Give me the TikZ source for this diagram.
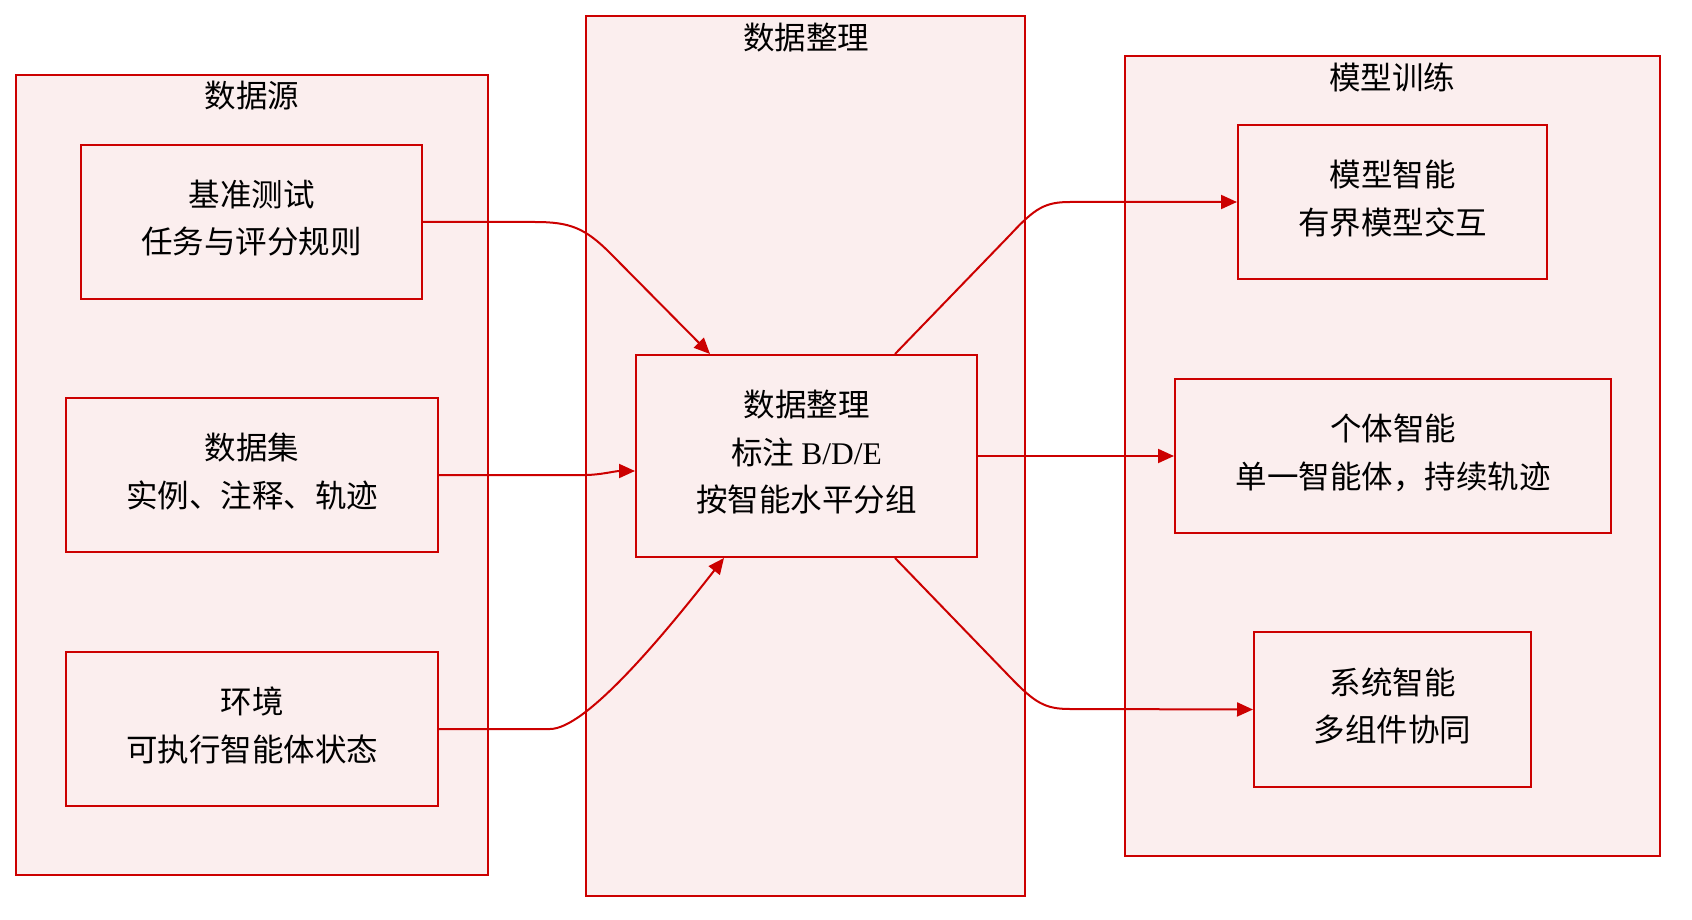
\documentclass[tikz,border=0pt]{standalone}
\usepackage{fontspec}
\setmainfont{Liberation Serif}
\newfontfamily\cjk{Noto Sans CJK SC}
\usetikzlibrary{arrows.meta,calc}
\definecolor{gvred}{HTML}{CC0000}
\definecolor{gvpink}{HTML}{FBEEEE}
\newcommand\lowstrut{\rule[-10pt]{0pt}{10pt}}
\begin{document}
\begin{tikzpicture}[x=1pt,y=-1pt,
  cluster/.style={draw=gvred,fill=gvpink,line width=2pt,inner sep=0pt},
  box/.style={draw=gvred,fill=gvpink,line width=2pt,align=center,inner sep=0pt,
    font=\cjk\fontsize{31.5}{47.5}\selectfont},
  ttl/.style={font=\cjk\fontsize{31.5}{38}\selectfont,inner sep=0pt},
  conn/.style={draw=gvred,line width=2pt,-{Triangle[length=16pt,width=14pt]}}]
\useasboundingbox (0,0) rectangle (1692,920);
% clusters
\node[cluster,minimum width=472pt,minimum height=800pt] (c1) at (252,475) {};
\node[cluster,minimum width=439pt,minimum height=880pt] (c2) at (805.5,456) {};
\node[cluster,minimum width=535pt,minimum height=800pt] (c3) at (1392.5,456) {};
\node[ttl] (t1) at (252,96) {数据源};
\node[ttl] (t2) at (806,38) {数据整理};
\node[ttl] (t3) at (1392,77) {模型训练};
% nodes
\node[box,minimum width=341pt,minimum height=154pt] (a) at (251.5,222) {基准测试\\任务与评分规则\lowstrut};
\node[box,minimum width=372pt,minimum height=154pt] (b) at (252,475) {数据集\\实例、注释、轨迹\lowstrut};
\node[box,minimum width=372pt,minimum height=154pt] (c) at (252,729) {环境\\可执行智能体状态\lowstrut};
\node[box,minimum width=341pt,minimum height=202pt] (d) at (806.5,456) {数据整理\\标注 {\rmfamily B/D/E}\\按智能水平分组\lowstrut};
\node[box,minimum width=309pt,minimum height=154pt] (e) at (1392.5,202) {模型智能\\有界模型交互\lowstrut};
\node[box,minimum width=436pt,minimum height=154pt] (f) at (1393,456) {个体智能\\单一智能体，持续轨迹\lowstrut};
\node[box,minimum width=277pt,minimum height=155pt] (g) at (1392.5,709.5) {系统智能\\多组件协同\lowstrut};
% edges
\draw[conn] (a.east) -- (535,222) .. controls (570,222) and (585,228) .. (610,253) -- ($(d.north west)+(75,0)$);
\draw[conn] (b.east) -- (585,475) .. controls (600,475) and (615,471) .. ($(d.west)+(0,15)$);
\draw[conn] (c.east) -- (550,729) .. controls (585,729) and (660,640) .. ($(d.south west)+(89,0)$);
\draw[conn] ($(d.north east)+(-83,0)$) -- (1010,235) .. controls (1035,208) and (1045,202) .. (1070,202) -- (e.west);
\draw[conn] (d.east) -- (f.west);
\draw[conn] ($(d.south east)+(-83,0)$) -- (1010,677) .. controls (1035,703) and (1045,709) .. (1070,709) -- (g.west);
\end{tikzpicture}
\end{document}
